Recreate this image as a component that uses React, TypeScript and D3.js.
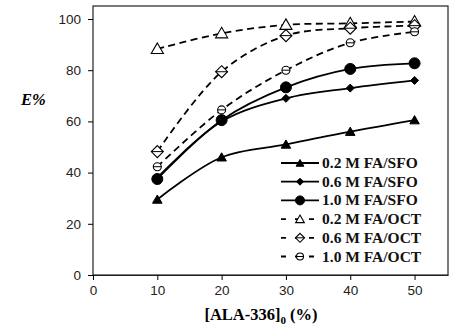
import React, { useEffect, useRef } from "react";
import * as d3 from "d3";

const xValues = [10, 20, 30, 40, 50];
const sfo02 = [29.5, 46, 51, 56, 60.5];
const sfo06 = [38, 60, 69, 73, 76];
const sfo10 = [37.5, 60.5, 73.3, 80.5, 82.7];
const oct02 = [88.3, 94.4, 97.7, 98.3, 99];
const oct06 = [48.2, 79.4, 93.5, 96.4, 97.4];
const oct10 = [42.3, 64.5, 80, 90.7, 95];
const xTicks = [0, 10, 20, 30, 40, 50];
const yTicks = [0, 20, 40, 60, 80, 100];

const series = [
  { name: "0.2 M FA/SFO", values: sfo02, marker: "triangle", filled: true, dashed: false },
  { name: "0.6 M FA/SFO", values: sfo06, marker: "diamond", filled: true, dashed: false },
  { name: "1.0 M FA/SFO", values: sfo10, marker: "circle", filled: true, dashed: false },
  { name: "0.2 M FA/OCT", values: oct02, marker: "triangle", filled: false, dashed: true },
  { name: "0.6 M FA/OCT", values: oct06, marker: "diamond", filled: false, dashed: true },
  { name: "1.0 M FA/OCT", values: oct10, marker: "circle", filled: false, dashed: true },
];

export default function App() {
  const ref = useRef<SVGSVGElement>(null);

  useEffect(() => {
    document.body.style.margin = "0";
    const width = 452;
    const margin = { top: 6, right: 4, bottom: 50, left: 93 };

    const svg = d3.select(ref.current);
    svg.selectAll("*").remove();

    const x = d3.scaleLinear().domain([0, 55.2]).range([margin.left, width - margin.right]);
    const y = d3.scaleLinear().domain([0, 100]).range([275, 19]);

    // plot frame
    svg.append("rect")
      .attr("x", margin.left).attr("y", margin.top)
      .attr("width", width - margin.right - margin.left)
      .attr("height", 275 - margin.top)
      .attr("fill", "none").attr("stroke", "#222").attr("stroke-width", 1.2);

    const xAxis = svg.append("g").attr("transform", "translate(0,275)")
      .call(d3.axisBottom(x).tickValues(xTicks).tickSize(5).tickSizeOuter(0));
    xAxis.select(".domain").attr("stroke", "#222").attr("stroke-width", 1.2);
    xAxis.selectAll("text").attr("font-family", "Arial, Liberation Sans, sans-serif").attr("font-size", 13.5).attr("fill", "#222").attr("dy", "0.9em");

    const yAxis = svg.append("g").attr("transform", `translate(${margin.left},0)`)
      .call(d3.axisLeft(y).tickValues(yTicks).tickSize(5).tickSizeOuter(0));
    yAxis.select(".domain").remove();
    yAxis.selectAll("text").attr("font-family", "Arial, Liberation Sans, sans-serif").attr("font-size", 13.5).attr("fill", "#222").attr("x", -12);

    const line = d3.line<number>()
      .x((_, i) => x(xValues[i]))
      .y(d => y(d))
      .curve(d3.curveCatmullRom.alpha(0.5));

    const drawMarker = (g: d3.Selection<SVGGElement, unknown, null, undefined>, s: typeof series[number], cx: number, cy: number, legend = false) => {
      const fill = s.filled ? "#000" : "#fff";
      const sw = s.filled ? 1 : 1.1;
      if (s.marker === "triangle") {
        const r = s.filled ? (legend ? 4.5 : 5.5) : (legend ? 5 : 7);
        g.append("path")
          .attr("d", d3.symbol(d3.symbolTriangle, r * r * 1.3)())
          .attr("transform", `translate(${cx},${cy + 1})`)
          .attr("fill", fill).attr("stroke", "#000").attr("stroke-width", sw);
      } else if (s.marker === "diamond") {
        const r = s.filled ? (legend ? 3.5 : 4) : (legend ? 4.5 : 6);
        g.append("path")
          .attr("d", `M${cx},${cy - r}L${cx + r},${cy}L${cx},${cy + r}L${cx - r},${cy}Z`)
          .attr("fill", fill).attr("stroke", "#000").attr("stroke-width", sw);
        if (!s.filled) {
          g.append("line").attr("x1", cx - r).attr("x2", cx + r).attr("y1", cy).attr("y2", cy).attr("stroke", "#000").attr("stroke-width", 1);
        }
      } else {
        const r = s.filled ? (legend ? 4.5 : 5.5) : (legend ? 3.5 : 4);
        g.append("circle").attr("cx", cx).attr("cy", cy).attr("r", r)
          .attr("fill", fill).attr("stroke", "#000").attr("stroke-width", sw);
        if (!s.filled) {
          g.append("line").attr("x1", cx - r).attr("x2", cx + r).attr("y1", cy).attr("y2", cy).attr("stroke", "#000").attr("stroke-width", 1);
        }
      }
    };

    const plot = svg.append("g");
    series.forEach(s => {
      plot.append("path")
        .attr("d", line(s.values))
        .attr("fill", "none").attr("stroke", "#000").attr("stroke-width", 1.8)
        .attr("stroke-dasharray", s.dashed ? "7,4.5" : null);
    });
    series.forEach(s => {
      const g = plot.append("g");
      s.values.forEach((v, i) => drawMarker(g, s, x(xValues[i]), y(v)));
    });

    // legend
    const legend = svg.append("g");
    series.forEach((s, i) => {
      const ly = 163 + i * 18.7;
      const g = legend.append("g");
      g.append("line").attr("x1", 281).attr("x2", 319).attr("y1", ly).attr("y2", ly)
        .attr("stroke", "#000").attr("stroke-width", 1.8)
        .attr("stroke-dasharray", s.dashed ? "5,9" : null);
      drawMarker(g, s, 300, ly, true);
      g.append("text").attr("x", 322).attr("y", ly + 5)
        .attr("font-family", "Liberation Serif, Times New Roman, serif")
        .attr("font-size", 15.5).attr("font-weight", "bold").attr("fill", "#111")
        .text(s.name);
    });

    // axis titles
    svg.append("text").attr("x", 21).attr("y", 105)
      .attr("font-family", "Liberation Serif, Times New Roman, serif")
      .attr("font-size", 16.5).attr("font-weight", "bold").attr("font-style", "italic")
      .text("E%");

    const xt = svg.append("text").attr("x", 261).attr("y", 320).attr("text-anchor", "middle")
      .attr("font-family", "Liberation Serif, Times New Roman, serif")
      .attr("font-size", 16.5).attr("font-weight", "bold");
    xt.append("tspan").text("[ALA-336]");
    xt.append("tspan").attr("font-size", 11).attr("dy", 4).text("0");
    xt.append("tspan").attr("dy", -4).text(" (%)");
  }, []);

  return <svg ref={ref} width={452} height={325} style={{ display: "block", background: "#fff" }} />;
}
